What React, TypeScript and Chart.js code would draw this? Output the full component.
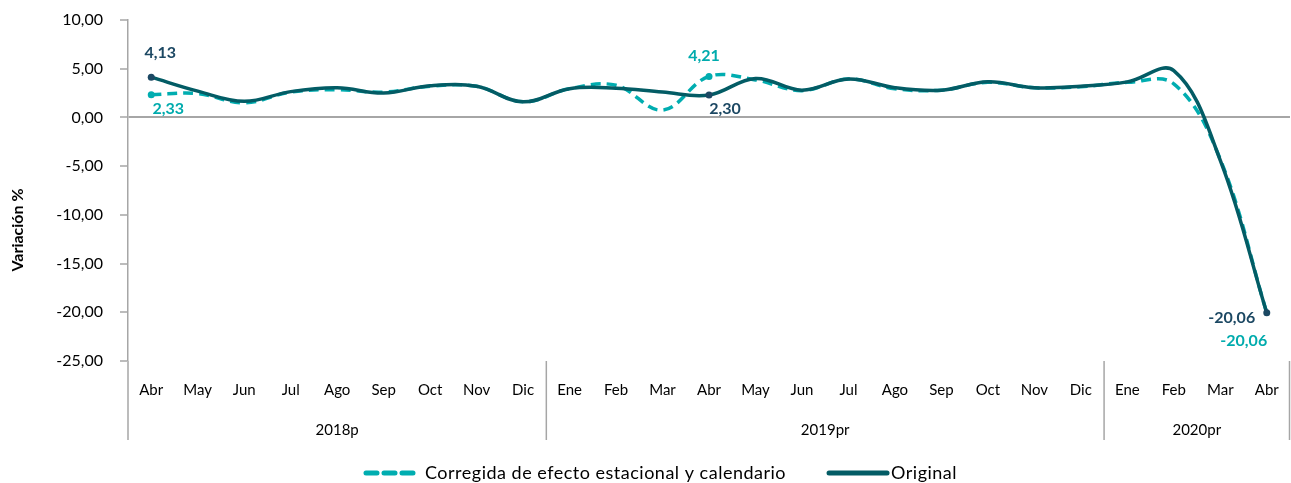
import { useEffect, useRef } from 'react';
import { Chart, registerables } from 'chart.js';

Chart.register(...registerables);

// ---- Data ----
const months = ['Abr', 'May', 'Jun', 'Jul', 'Ago', 'Sep', 'Oct', 'Nov', 'Dic', 'Ene', 'Feb', 'Mar', 'Abr', 'May', 'Jun', 'Jul', 'Ago', 'Sep', 'Oct', 'Nov', 'Dic', 'Ene', 'Feb', 'Mar', 'Abr'];
const yearLabels = ['2018p', '2019pr', '2020pr'];
const yearSpans = [9, 12, 4];
const corregida = [2.33, 2.45, 1.5, 2.6, 2.85, 2.6, 3.2, 3.2, 1.6, 2.95, 3.3, 0.75, 4.21, 3.85, 2.75, 3.95, 2.95, 2.8, 3.6, 3.05, 3.15, 3.6, 3.45, -4.3, -20.06];
const original = [4.13, 2.7, 1.65, 2.65, 3.05, 2.5, 3.25, 3.2, 1.6, 2.95, 3.0, 2.6, 2.30, 4.0, 2.8, 3.95, 3.05, 2.8, 3.65, 3.05, 3.2, 3.65, 4.8, -4.4, -20.06];
const seriesNames = ['Corregida de efecto estacional y calendario', 'Original'];
const yMin = -25;
const yMax = 10;
const yStep = 5;
const yTitle = 'Variación %';
// labelled points: dataset index, point index
const labelledPoints = [
  { ds: 1, idx: 0 },
  { ds: 0, idx: 0 },
  { ds: 0, idx: 12 },
  { ds: 1, idx: 12 },
  { ds: 1, idx: 24 },
  { ds: 0, idx: 24 },
];

// ---- Styles ----
const FONT = "Lato, 'Open Sans', sans-serif";
const C_ORIG = '#035C65';
const C_CORR = '#00ADB0';
const C_LBL_ORIG = '#1C4863';
const C_LBL_CORR = '#00ABAD';
const C_AXIS = '#A6A6A6';
const labelOffsets = [
  { dx: 9, dy: -24 },
  { dx: 17, dy: 14 },
  { dx: -5, dy: -21 },
  { dx: 16, dy: 14 },
  { dx: -35, dy: 5 },
  { dx: -23, dy: 28 },
];

const fmt = (v: number) => v.toFixed(2).replace('.', ',');

const pointRadii = (n: number, idxs: number[]) =>
  Array.from({ length: n }, (_, i) => (idxs.includes(i) ? 3.5 : 0));

const extrasPlugin = {
  id: 'extras',
  afterDatasetsDraw(chart: any) {
    const ctx = chart.ctx;
    ctx.save();
    ctx.font = `bold 16px ${FONT}`;
    ctx.textAlign = 'center';
    ctx.textBaseline = 'middle';
    labelledPoints.forEach((lp, k) => {
      const meta = chart.getDatasetMeta(lp.ds);
      const pt = meta.data[lp.idx];
      const v = chart.data.datasets[lp.ds].data[lp.idx];
      ctx.fillStyle = lp.ds === 1 ? C_LBL_ORIG : C_LBL_CORR;
      ctx.fillText(fmt(v), pt.x + labelOffsets[k].dx, pt.y + labelOffsets[k].dy);
    });
    ctx.restore();
  },
  afterDraw(chart: any) {
    const ctx = chart.ctx;
    const xs = chart.scales.x;
    const area = chart.chartArea;
    const bottom = xs.bottom;
    ctx.save();
    // separators
    const bounds: number[] = [area.left];
    let acc = 0;
    yearSpans.forEach((s) => {
      acc += s;
      if (acc < months.length) {
        bounds.push((xs.getPixelForValue(acc - 1) + xs.getPixelForValue(acc)) / 2);
      }
    });
    bounds.push(area.right - 0.5);
    ctx.strokeStyle = C_AXIS;
    ctx.lineWidth = 1.5;
    bounds.forEach((bx) => {
      ctx.beginPath();
      ctx.moveTo(bx, area.bottom);
      ctx.lineTo(bx, bottom);
      ctx.stroke();
    });
    // year labels
    ctx.fillStyle = '#000';
    ctx.font = `15px ${FONT}`;
    ctx.textAlign = 'center';
    ctx.textBaseline = 'middle';
    yearLabels.forEach((yl, i) => {
      ctx.fillText(yl, (bounds[i] + bounds[i + 1]) / 2, bottom - 10);
    });
    // y title
    ctx.save();
    ctx.translate(18, (area.top + bottom) / 2);
    ctx.rotate(-Math.PI / 2);
    ctx.font = `bold 16px ${FONT}`;
    ctx.fillText(yTitle, 0, 0);
    ctx.restore();
    // legend
    const ly = 473;
    let lx = 366;
    ctx.font = `18px ${FONT}`;
    try { (ctx as any).letterSpacing = '0.5px'; } catch (e) { /* ignore */ }
    ctx.textAlign = 'left';
    chart.data.datasets.forEach((ds: any, i: number) => {
      const w = i === 0 ? 50 : 58;
      ctx.strokeStyle = ds.borderColor;
      ctx.lineWidth = 5;
      ctx.lineCap = 'round';
      ctx.setLineDash(i === 0 ? [11, 7] : []);
      ctx.beginPath();
      ctx.moveTo(lx, ly);
      ctx.lineTo(lx + w, ly);
      ctx.stroke();
      ctx.setLineDash([]);
      lx += w + (i === 0 ? 9 : 4);
      ctx.fillStyle = '#000';
      ctx.fillText(seriesNames[i], lx, ly);
      lx += ctx.measureText(seriesNames[i]).width + 43;
    });
    try { (ctx as any).letterSpacing = '0px'; } catch (e) { /* ignore */ }
    ctx.restore();
  },
};

export default function App() {
  const ref = useRef<HTMLCanvasElement | null>(null);
  useEffect(() => {
    if (!ref.current) return;
    const chart = new Chart(ref.current, {
      type: 'line',
      data: {
        labels: months,
        datasets: [
          {
            label: seriesNames[0],
            data: corregida,
            borderColor: C_CORR,
            backgroundColor: C_CORR,
            borderWidth: 3.5,
            borderDash: [10, 6],
            tension: 0.38,
            pointRadius: pointRadii(corregida.length, [0, 12]),
            pointBorderWidth: 0,
            order: 1,
          },
          {
            label: seriesNames[1],
            data: original,
            borderColor: C_ORIG,
            backgroundColor: C_LBL_ORIG,
            borderWidth: 3.5,
            tension: 0.38,
            pointRadius: pointRadii(original.length, [0, 12, 24]),
            pointBorderWidth: 0,
            order: 0,
          },
        ],
      },
      options: {
        animation: false,
        responsive: true,
        maintainAspectRatio: false,
        layout: { autoPadding: false, padding: { top: 20, right: 1, bottom: 43, left: 0 } },
        plugins: {
          legend: { display: false },
          tooltip: { enabled: false },
        },
        scales: {
          x: {
            type: 'category',
            offset: true,
            grid: {
              display: true,
              drawOnChartArea: false,
              drawTicks: true,
              tickLength: 18,
              color: 'rgba(0,0,0,0)',
              tickColor: 'rgba(0,0,0,0)',
            },
            border: { display: false },
            ticks: {
              color: '#000',
              font: { family: FONT, size: 15 },
              padding: 2,
              maxRotation: 0,
              autoSkip: false,
            },
            afterFit: (s: any) => {
              s.height = 79;
              s.paddingLeft = 0;
              s.paddingRight = 0;
            },
          },
          y: {
            min: yMin,
            max: yMax,
            ticks: {
              stepSize: yStep,
              color: '#000',
              font: { family: FONT, size: 16 },
              padding: 17,
              callback: (v: any) => fmt(Number(v)),
            },
            grid: {
              color: (c: any) => (c.tick && c.tick.value === 0 ? C_AXIS : 'rgba(0,0,0,0)'),
              lineWidth: (c: any) => (c.tick && c.tick.value === 0 ? 2 : 0),
              tickColor: C_AXIS,
              tickLength: 8,
              tickWidth: 1.5,
            },
            border: { display: true, color: C_AXIS, width: 1.5 },
            afterFit: (s: any) => {
              s.width = 128;
              s.paddingTop = 0;
              s.paddingBottom = 0;
            },
          },
        },
      },
      plugins: [extrasPlugin],
    });
    return () => chart.destroy();
  }, []);
  return (
    <div style={{ position: 'fixed', left: 0, top: 0, width: 1291, height: 483, background: '#fff' }}>
      <canvas ref={ref} />
    </div>
  );
}
